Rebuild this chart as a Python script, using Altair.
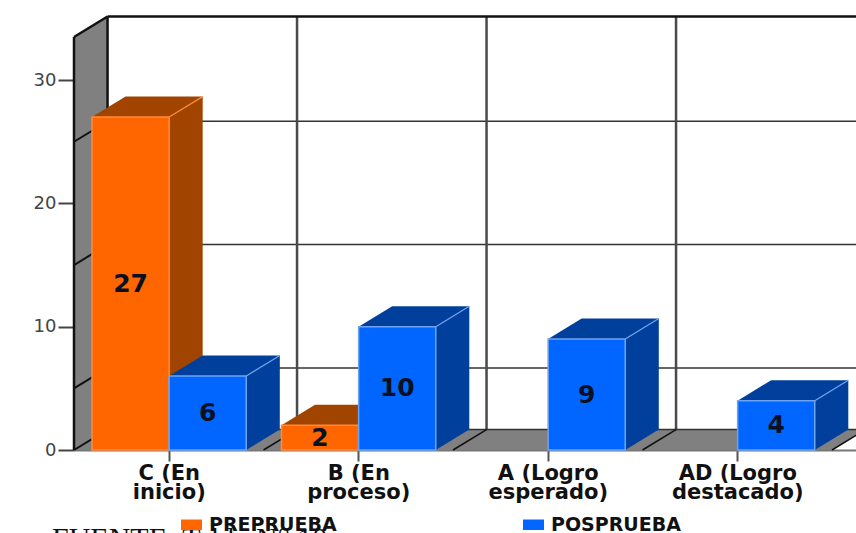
import altair as alt
import pandas as pd

# Student counts per achievement level
levels = ["C (En\ninicio)", "B (En\nproceso)", "A (Logro\nesperado)", "AD (Logro\ndestacado)"]
preprueba = [27, 2, None, None]
posprueba = [6, 10, 9, 4]
series_names = ["PREPRUEBA", "POSPRUEBA"]
front_colors = ["#ff6600", "#0066ff"]
edge_colors = ["#ff8a3c", "#6fa3ee"]
shade_colors = ["#a04400", "#00409c"]
y_tick_values = [0, 10, 20, 30]
grid_values = [5, 15, 25]

# Oblique projection: each point at the back is shifted by these amounts
DEPTH_X = 0.177
DEPTH_Y = 1.66
BAR_W = 0.407
BAR_GAP = 0.095
Y_TOP = 33.5
X_MAX = 782 / 189.5
Y_MAX = 450 / 12.33

x_scale = alt.Scale(domain=[0, X_MAX], nice=False, zero=False)
y_scale = alt.Scale(domain=[0, Y_MAX], nice=False, zero=False)
X = alt.X("x:Q", scale=x_scale, title=None)
Y = alt.Y("y:Q", scale=y_scale, title=None)


def polygons(frame, color):
    """Filled faces: each polygon is an area between y and y2 along x."""
    return alt.Chart(pd.DataFrame(frame)).mark_area(color=color, opacity=1, line=False).encode(
        x=X, y=Y, y2="y2:Q", detail="id:N"
    )


def segments(frame, color, width):
    """Straight strokes between two projected points."""
    return alt.Chart(pd.DataFrame(frame)).mark_rule(color=color, strokeWidth=width).encode(
        x=X, x2="x2:Q", y=Y, y2="y2:Q"
    )


def top_face(key, x0, x1, v):
    return [
        dict(id=key, x=x0, y=v, y2=v),
        dict(id=key, x=x0 + DEPTH_X, y=v, y2=v + DEPTH_Y),
        dict(id=key, x=x1, y=v, y2=v + DEPTH_Y),
        dict(id=key, x=x1 + DEPTH_X, y=v + DEPTH_Y, y2=v + DEPTH_Y),
    ]


def side_face(key, x1, v):
    return [
        dict(id=key, x=x1, y=0, y2=v),
        dict(id=key, x=x1 + DEPTH_X, y=DEPTH_Y, y2=v + DEPTH_Y),
    ]


# Room: left wall, floor and back-wall lines
wall = polygons(
    [dict(id="wall", x=0, y=0, y2=Y_TOP), dict(id="wall", x=DEPTH_X, y=DEPTH_Y, y2=Y_TOP + DEPTH_Y)],
    "#808080",
)
floor = polygons(top_face("floor", 0, len(levels), 0), "#808080")

back_h = [dict(x=DEPTH_X, x2=X_MAX, y=g + DEPTH_Y, y2=g + DEPTH_Y) for g in grid_values]
back_v = [dict(x=i + DEPTH_X, x2=i + DEPTH_X, y=DEPTH_Y, y2=Y_TOP + DEPTH_Y) for i in range(1, len(levels) + 1)]
wall_diag = [dict(x=0, x2=DEPTH_X, y=g, y2=g + DEPTH_Y) for g in [0] + grid_values]
floor_diag = [dict(x=i, x2=i + DEPTH_X, y=0, y2=DEPTH_Y) for i in range(1, len(levels) + 1)]
frame_lines = [
    dict(x=0, x2=0, y=0, y2=Y_TOP),
    dict(x=DEPTH_X, x2=DEPTH_X, y=DEPTH_Y, y2=Y_TOP + DEPTH_Y),
    dict(x=0, x2=DEPTH_X, y=Y_TOP, y2=Y_TOP + DEPTH_Y),
    dict(x=DEPTH_X, x2=X_MAX, y=Y_TOP + DEPTH_Y, y2=Y_TOP + DEPTH_Y),
]

layers = [
    wall,
    floor,
    segments(back_h, "#333333", 1.5),
    segments(back_v, "#4a4a4a", 2.5),
    segments([dict(x=DEPTH_X, x2=X_MAX, y=DEPTH_Y, y2=DEPTH_Y)], "#333333", 1.5),
    segments(wall_diag, "#111111", 2),
    segments(floor_diag, "#111111", 1.5),
    segments(frame_lines, "#111111", 2.5),
]

# Bars, drawn series by series so that the later one sits in front
for s, values in enumerate([preprueba, posprueba]):
    faces, fronts, edges = [], [], []
    for i, v in enumerate(values):
        if v is None:
            continue
        x0 = i + BAR_GAP + s * BAR_W
        x1 = x0 + BAR_W
        faces += top_face(f"t{i}", x0, x1, v) + side_face(f"s{i}", x1, v)
        fronts.append(dict(x=x0, x2=x1, y=0, y2=v, mid=v / 2, cx=(x0 + x1) / 2, value=v, serie=series_names[s]))
        edges.append(dict(x=x1, x2=x1 + DEPTH_X, y=v, y2=v + DEPTH_Y))
    layers.append(polygons(faces, shade_colors[s]))
    layers.append(segments(edges, edge_colors[s], 1.2))
    front_df = pd.DataFrame(fronts)
    layers.append(
        alt.Chart(front_df).mark_rect(strokeWidth=1.5).encode(
            x=X,
            x2="x2:Q",
            y=Y,
            y2="y2:Q",
            color=alt.Color(
                "serie:N",
                scale=alt.Scale(domain=series_names, range=front_colors),
                legend=alt.Legend(
                    title=None,
                    orient="none",
                    legendX=107,
                    legendY=514,
                    direction="horizontal",
                    columns=2,
                    columnPadding=186,
                    symbolType="M-1,-0.5H1V0.5H-1Z",
                    symbolSize=440,
                    symbolStrokeWidth=0,
                    labelFont="DejaVu Sans",
                    labelFontWeight="bold",
                    labelFontSize=19,
                    labelColor="#111111",
                    labelOffset=7,
                    labelLimit=200,
                ),
            ),
            stroke=alt.Stroke(
                "serie:N", scale=alt.Scale(domain=series_names, range=edge_colors), legend=None
            ),
        )
    )
    layers.append(
        alt.Chart(front_df).mark_text(
            font="DejaVu Sans", fontWeight="bold", fontSize=25, color="#0a1020", baseline="middle"
        ).encode(
            x=alt.X("cx:Q", scale=x_scale, title=None),
            y=alt.Y("mid:Q", scale=y_scale, title=None),
            text="value:Q",
        )
    )

# Category labels keyed by tick position on the group axis
tick_positions = [i + 0.5 for i in range(len(levels))]
label_expr = "".join(
    "datum.value == %s ? %s : " % (p, str(l.split("\n"))) for p, l in zip(tick_positions, levels)
) + "''"

axes = alt.Chart(pd.DataFrame({"x": [0], "y": [0]})).mark_point(opacity=0).encode(
    x=alt.X(
        "x:Q",
        scale=x_scale,
        title=None,
        axis=alt.Axis(
            values=tick_positions,
            labelExpr=label_expr,
            grid=False,
            tickSize=11,
            tickWidth=2,
            tickColor="#555555",
            domainColor="#777777",
            domainWidth=2,
            labelFont="DejaVu Sans",
            labelFontWeight="bold",
            labelFontSize=21,
            labelLineHeight=19,
            labelColor="#111111",
            labelPadding=1,
            labelAngle=0,
            labelOverlap=False,
            labelFlush=False,
            labelBound=False,
            labelBaseline="top",
        ),
    ),
    y=alt.Y(
        "y:Q",
        scale=y_scale,
        title=None,
        axis=alt.Axis(
            values=y_tick_values,
            grid=False,
            domain=False,
            tickSize=16,
            tickWidth=2,
            tickColor="#444444",
            labelFont="DejaVu Sans",
            labelFontSize=18,
            labelColor="#444444",
            labelPadding=2,
        ),
    ),
)

source_note = alt.Chart(pd.DataFrame({"t": ["FUENTE: Tabla N° 10"]})).mark_text(
    font="Liberation Serif", fontSize=30, color="#111111", align="left", baseline="alphabetic"
).encode(x=alt.value(-22), y=alt.value(548), text="t:N")

chart = (
    alt.layer(*layers, axes, source_note)
    .resolve_scale(x="shared", y="shared", color="shared")
    .properties(
        width=782,
        height=450,
        padding={"left": 74, "top": 0, "right": 0, "bottom": 83},
        autosize=alt.AutoSizeParams(type="none"),
        background="#ffffff",
    )
    .configure_view(stroke=None)
)

chart.save("out.html", embed_options={"renderer": "svg", "actions": False})
